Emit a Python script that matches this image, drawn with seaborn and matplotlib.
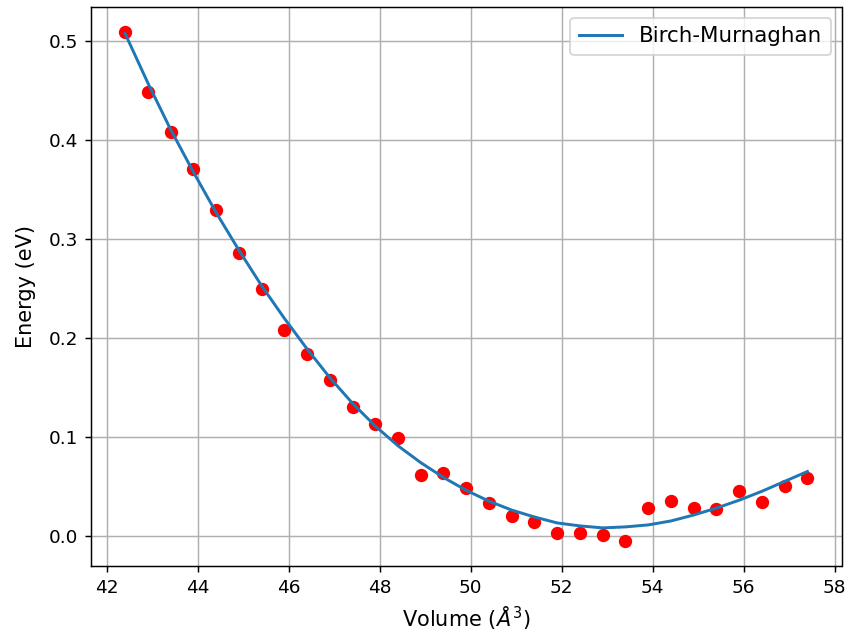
import matplotlib
matplotlib.use("Agg")
import matplotlib.pyplot as plt
import seaborn as sns
import pandas as pd

volume = [42.4, 42.9, 43.4, 43.9, 44.4, 44.9, 45.4, 45.9, 46.4, 46.9,
          47.4, 47.9, 48.4, 48.9, 49.4, 49.9, 50.4, 50.9, 51.4, 51.9,
          52.4, 52.9, 53.4, 53.9, 54.4, 54.9, 55.4, 55.9, 56.4, 56.9, 57.4]
energy = [0.509, 0.449, 0.408, 0.371, 0.329, 0.286, 0.250, 0.208, 0.184, 0.158,
          0.130, 0.113, 0.099, 0.061, 0.063, 0.048, 0.033, 0.020, 0.014, 0.003,
          0.003, 0.001, -0.005, 0.028, 0.035, 0.028, 0.027, 0.045, 0.034, 0.050, 0.058]
fit_energy = [0.508, 0.458, 0.411, 0.368, 0.327, 0.289, 0.253, 0.220, 0.189, 0.160,
              0.134, 0.111, 0.091, 0.074, 0.059, 0.046, 0.035, 0.026, 0.019, 0.013,
              0.010, 0.008, 0.009, 0.011, 0.015, 0.021, 0.028, 0.036, 0.045, 0.055, 0.065]

df = pd.DataFrame({"volume": volume, "energy": energy, "fit": fit_energy})

dpi = 133
fig, ax = plt.subplots(figsize=(850 / dpi, 639 / dpi), dpi=dpi)
fig.subplots_adjust(left=0.107, right=0.99, top=0.989, bottom=0.114)

sns.scatterplot(data=df, x="volume", y="energy", color="red", s=52,
                edgecolor="red", linewidth=0, ax=ax, zorder=2)
sns.lineplot(data=df, x="volume", y="fit", color="#1f77b4", linewidth=1.6,
             label="Birch-Murnaghan", ax=ax, zorder=3)

ax.set_xlabel(r"Volume ($\AA^3$)", fontsize=11.3)
ax.set_ylabel("Energy (eV)", fontsize=11.3, labelpad=7)
ax.set_xticks([42, 44, 46, 48, 50, 52, 54, 56, 58])
ax.set_yticks([0.0, 0.1, 0.2, 0.3, 0.4, 0.5])
ax.grid(True, color="#b0b0b0", linewidth=0.8)
ax.set_axisbelow(True)
ax.legend(loc="upper right", fontsize=11.6)

fig.savefig("out.png", dpi=dpi)
